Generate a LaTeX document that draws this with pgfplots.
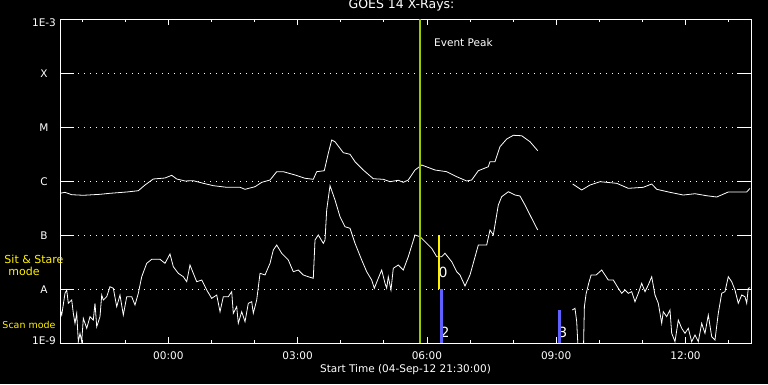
\documentclass[border=0pt]{standalone}
\usepackage{pgfplots}
\pgfplotsset{compat=1.18}
\usepackage{fontspec}
\setmainfont{DejaVu Sans}
\definecolor{peakgreen}{RGB}{153,204,0}
\definecolor{scanblue}{RGB}{96,96,255}
\begin{document}
\begin{tikzpicture}[x=1pt,y=1pt]
\useasboundingbox (0,0) rectangle (768,384);
\fill[black] (0,0) rectangle (768,384);
\begin{axis}[
  at={(60pt,40.7pt)}, anchor=south west,
  scale only axis, width=691pt, height=324pt,
  xmin=-2.513, xmax=13.52, ymin=-9, ymax=-3,
  axis line style={white, line width=0.8pt},
  tick style={white, line width=0.8pt},
  xtick={0,3,6,9,12},
  xticklabels={00:00,03:00,06:00,09:00,12:00},
  minor xtick={-2,-1,1,2,4,5,7,8,10,11,13},
  xtick pos=both, ytick pos=both,
  xtick style={/pgfplots/major tick length=6pt, /pgfplots/minor tick length=3pt},
  ytick style={/pgfplots/major tick length=14pt},
  ytick={-9,-8,-7,-6,-5,-4,-3},
  yticklabels={\raisebox{3pt}[\height][\depth]{1E-9},A,B,C,M,X,\raisebox{-3.5pt}[\height][\depth]{1E-3}},
  ymajorgrids,
  major grid style={white, line width=0.8pt, dash pattern=on 0.8pt off 5.2pt},
  tick label style={text=white, font=\fontsize{10.5}{12}\selectfont},
  xticklabel style={anchor=base, yshift=-16pt},
  yticklabel style={anchor=center, xshift=-16pt},
  title={GOES 14 X-Rays:},
  title style={text=white, font=\fontsize{12.5}{14}\selectfont, anchor=base, at={(axis description cs:0.5,1)}, yshift=5.3pt, xshift=-4pt},
  xlabel={Start Time (04-Sep-12 21:30:00)},
  xlabel style={text=white, font=\fontsize{10.5}{12}\selectfont, anchor=base, at={(axis description cs:0.5,0)}, yshift=-28.7pt},
]
% long channel (upper)
\addplot[white, line width=0.8pt, no marks] coordinates {
(-2.513,-6.222) (-2.397,-6.204) (-2.241,-6.248) (-1.972,-6.259) (-1.585,-6.241) (-1.353,-6.222) (-0.965,-6.198) (-0.696,-6.174) (-0.541,-6.069) (-0.348,-5.957) (-0.077,-5.939) (0.079,-5.889) (0.195,-5.957) (0.387,-5.994) (0.580,-5.989) (0.812,-6.037) (1.044,-6.081) (1.355,-6.111) (1.664,-6.111) (1.780,-6.148) (2.012,-6.100) (2.167,-6.019) (2.360,-5.976) (2.515,-5.822) (2.668,-5.822) (2.940,-5.883) (3.172,-5.944) (3.364,-5.963) (3.443,-5.822) (3.619,-5.804) (3.712,-5.481) (3.791,-5.235) (3.868,-5.267) (4.060,-5.470) (4.216,-5.500) (4.332,-5.637) (4.524,-5.791) (4.756,-5.952) (4.988,-5.963) (5.144,-6.007) (5.336,-5.981) (5.452,-6.019) (5.568,-5.976) (5.724,-5.791) (5.879,-5.698) (6.188,-5.791) (6.459,-5.822) (6.691,-5.915) (6.923,-5.994) (7.039,-5.976) (7.193,-5.804) (7.425,-5.730) (7.464,-5.637) (7.580,-5.637) (7.696,-5.359) (7.852,-5.217) (8.005,-5.148) (8.199,-5.156) (8.392,-5.267) (8.571,-5.433)
};
\addplot[white, line width=0.8pt, no marks] coordinates {
(9.383,-6.050) (9.592,-6.161) (9.784,-6.069) (10.016,-6.007) (10.404,-6.037) (10.673,-6.130) (11.021,-6.111) (11.216,-6.050) (11.332,-6.148) (11.640,-6.204) (11.949,-6.254) (12.220,-6.230) (12.492,-6.267) (12.724,-6.291) (12.993,-6.198) (13.420,-6.198) (13.497,-6.130)
};
% short channel (lower)
\addplot[white, line width=0.8pt, no marks] coordinates {
(-2.513,-8.35) (-2.473,-8.476) (-2.397,-8.074) (-2.357,-8.013) (-2.320,-8.259) (-2.241,-8.198) (-2.204,-8.444) (-2.165,-8.630) (-2.125,-8.444) (-2.088,-8.970) (-2.049,-8.815) (-2.009,-8.970) (-1.972,-8.537) (-1.893,-8.722) (-1.817,-8.507) (-1.740,-8.569) (-1.701,-8.259) (-1.661,-8.693) (-1.585,-8.507) (-1.545,-8.106) (-1.508,-8.198) (-1.429,-8.137) (-1.353,-7.952) (-1.276,-7.981) (-1.197,-8.322) (-1.121,-8.106) (-1.044,-8.476) (-0.965,-8.137) (-0.849,-8.137) (-0.773,-8.291) (-0.696,-8.074) (-0.617,-7.767) (-0.501,-7.519) (-0.385,-7.444) (-0.193,-7.444) (-0.077,-7.519) (0.039,-7.346) (0.116,-7.581) (0.232,-7.704) (0.348,-7.767) (0.427,-7.859) (0.503,-7.550) (0.580,-7.704) (0.659,-7.859) (0.775,-7.828) (0.891,-8.013) (1.007,-8.167) (1.123,-8.106) (1.200,-8.415) (1.276,-8.137) (1.392,-8.137) (1.471,-8.044) (1.508,-8.444) (1.587,-8.322) (1.624,-8.630) (1.703,-8.415) (1.780,-8.600) (1.856,-8.259) (1.935,-8.230) (1.972,-8.444) (2.051,-8.198) (2.128,-7.704) (2.244,-7.735) (2.360,-7.519) (2.436,-7.272) (2.515,-7.180) (2.631,-7.333) (2.784,-7.457) (2.900,-7.674) (3.016,-7.643) (3.132,-7.735) (3.248,-7.767) (3.364,-7.796) (3.404,-7.087) (3.480,-6.994) (3.596,-7.148) (3.636,-7.087) (3.675,-6.531) (3.752,-6.081) (3.868,-6.346) (3.984,-6.656) (4.100,-6.841) (4.216,-6.870) (4.332,-7.148) (4.487,-7.457) (4.603,-7.674) (4.719,-7.828) (4.780,-7.981) (4.872,-7.796) (4.951,-7.643) (5.028,-7.889) (5.067,-7.981) (5.104,-7.767) (5.167,-8.013) (5.220,-7.611) (5.336,-7.550) (5.452,-7.643) (5.568,-7.396) (5.724,-6.994) (5.840,-7.026) (5.995,-7.148) (6.111,-7.241) (6.227,-7.396) (6.343,-7.396) (6.420,-7.333) (6.575,-7.489) (6.691,-7.674) (6.768,-7.735) (6.884,-7.939) (7.000,-7.735) (7.193,-7.180) (7.387,-7.180) (7.464,-6.902) (7.541,-6.994) (7.657,-6.439) (7.735,-6.285) (7.889,-6.193) (8.044,-6.254) (8.160,-6.272) (8.276,-6.439) (8.432,-6.685) (8.571,-6.902)
};
\addplot[white, line width=0.8pt, no marks] coordinates {
(9.374,-8.383) (9.436,-8.352) (9.476,-8.600) (9.514,-9.2) (9.630,-9.2) (9.654,-8.322) (9.693,-8.087) (9.754,-7.889) (9.810,-7.735) (9.926,-7.735) (10.056,-7.643) (10.132,-7.735) (10.209,-7.828) (10.325,-7.828) (10.441,-7.981) (10.520,-8.074) (10.596,-8.013) (10.673,-8.074) (10.752,-8.044) (10.828,-8.230) (10.905,-8.074) (10.984,-7.889) (11.060,-8.044) (11.137,-7.920) (11.216,-7.767) (11.292,-8.106) (11.369,-8.259) (11.448,-8.630) (11.485,-8.415) (11.564,-8.507) (11.640,-8.383) (11.680,-8.815) (11.756,-8.970) (11.833,-8.569) (11.912,-8.722) (11.988,-8.815) (12.065,-8.722) (12.144,-8.970) (12.220,-8.846) (12.297,-8.970) (12.376,-8.630) (12.452,-8.815) (12.529,-8.476) (12.608,-8.878) (12.684,-8.939) (12.761,-8.444) (12.840,-8.074) (12.916,-8.044) (12.993,-7.767) (13.072,-7.859) (13.148,-8.013) (13.225,-8.259) (13.304,-8.106) (13.380,-8.137) (13.420,-8.259) (13.457,-7.981) (13.497,-7.970)
};
% event peak line
\addplot[peakgreen, line width=2pt, no marks] coordinates {(5.840,-9) (5.840,-3)};
\node[text=white, anchor=base west, font=\fontsize{10.5}{12}\selectfont] at (axis cs:6.088,-3.507) {Event Peak};
% observation labels
\node[text=white, font=\fontsize{14}{16}\selectfont] at (axis cs:6.374,-7.689) {0};
\node[text=white, font=\fontsize{14}{16}\selectfont] at (axis cs:6.424,-8.80) {2};
\node[text=white, font=\fontsize{14}{16}\selectfont] at (axis cs:9.155,-8.796) {3};
% observation bars
\addplot[yellow, line width=2pt, no marks] coordinates {(6.285,-8) (6.285,-7)};
\addplot[scanblue, line width=2.7pt, no marks] coordinates {(6.334,-9) (6.334,-8)};
\addplot[scanblue, line width=2.7pt, no marks] coordinates {(9.072,-9) (9.072,-8.383)};
\end{axis}
\node[text=yellow, font=\fontsize{11}{13}\selectfont, anchor=base] at (34,121) {Sit \& Stare};
\node[text=yellow, font=\fontsize{11}{13}\selectfont, anchor=base] at (24,109) {mode};
\node[text=yellow, font=\fontsize{9.5}{11}\selectfont, anchor=base, inner sep=0pt] at (29,55.7) {Scan mode};
\end{tikzpicture}
\end{document}
